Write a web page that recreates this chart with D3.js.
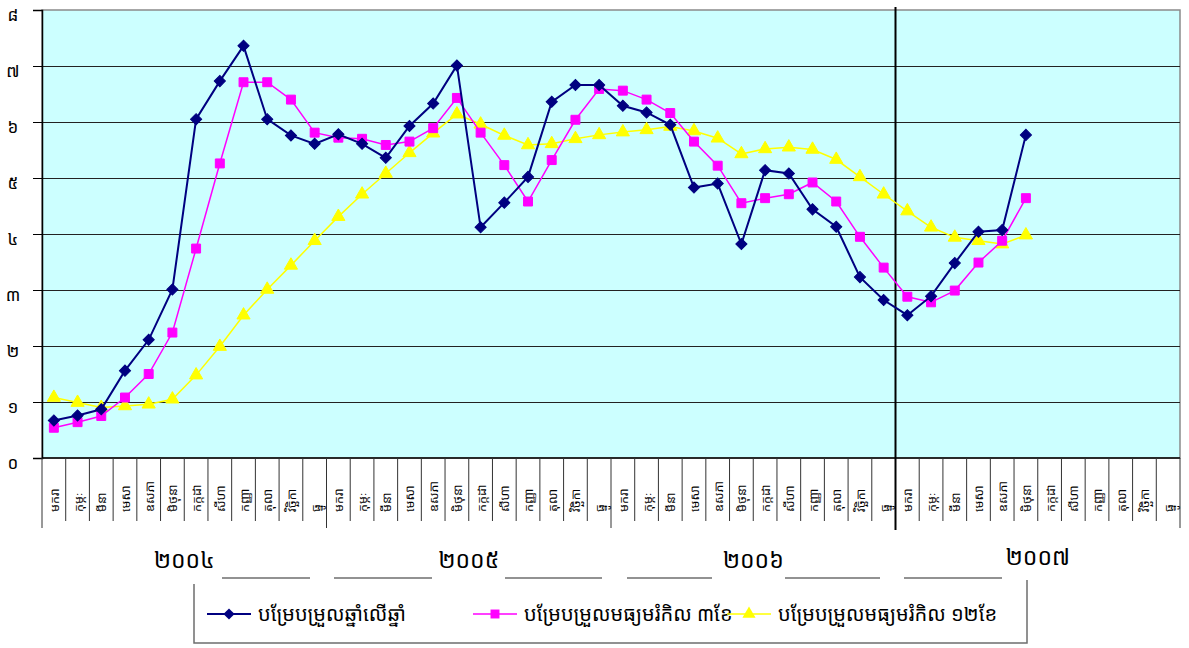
<!DOCTYPE html>
<html>
<head>
<meta charset="utf-8">
<script src="https://cdn.jsdelivr.net/npm/d3@7"></script>
<style>
  body { margin: 0; background: #fff; }
  svg text { font-family: "Noto Sans Khmer", "Khmer OS", "Noto Sans", "DejaVu Sans", sans-serif; fill: #000; }
</style>
</head>
<body>
<div id="chart"></div>
<script>
// months and years (Khmer)
var months = ["មករា", "កុម្ភៈ", "មីនា", "មេសា", "ឧសភា", "មិថុនា", "កក្កដា", "សីហា", "កញ្ញា", "តុលា", "វិច្ឆិកា", "ធ្នូ"];
var years = ["២០០៤", "២០០៥", "២០០៦", "២០០៧"];
var yTicks = ["០", "១", "២", "៣", "៤", "៥", "៦", "៧", "៨"];

// year on year change (%)
var yoy = [0.67, 0.76, 0.87, 1.56, 2.11, 3.01, 6.05, 6.73, 7.36, 6.05, 5.76, 5.61,
           5.78, 5.61, 5.36, 5.93, 6.33, 7.01, 4.12, 4.56, 5.02, 6.36, 6.66, 6.66,
           6.29, 6.17, 5.95, 4.83, 4.90, 3.82, 5.14, 5.08, 4.44, 4.13, 3.23, 2.82,
           2.55, 2.89, 3.48, 4.04, 4.07, 5.77];
// 3 month moving average
var ma3 = [0.54, 0.64, 0.75, 1.08, 1.50, 2.24, 3.74, 5.26, 6.71, 6.71, 6.40, 5.81,
           5.72, 5.70, 5.59, 5.65, 5.89, 6.43, 5.81, 5.23, 4.58, 5.32, 6.04, 6.59,
           6.56, 6.40, 6.16, 5.65, 5.22, 4.55, 4.64, 4.71, 4.92, 4.58, 3.95, 3.40,
           2.88, 2.78, 2.99, 3.49, 3.88, 4.64];
// 12 month moving average
var ma12 = [1.08, 0.99, 0.90, 0.93, 0.96, 1.05, 1.48, 1.99, 2.55, 3.01, 3.44, 3.88,
            4.31, 4.71, 5.08, 5.45, 5.80, 6.14, 5.96, 5.76, 5.59, 5.61, 5.70, 5.77,
            5.82, 5.86, 5.92, 5.84, 5.71, 5.43, 5.52, 5.55, 5.51, 5.33, 5.02, 4.71,
            4.41, 4.12, 3.94, 3.88, 3.82, 3.98];

var seriesNames = ["បម្រែបម្រួលឆ្នាំលើឆ្នាំ", "បម្រែបម្រួលមធ្យមរំកិល ៣ខែ", "បម្រែបម្រួលមធ្យមរំកិល ១២ខែ"];

var width = 1189, height = 648;
var plot = {left: 42, right: 1180, top: 10, bottom: 458};

var svg = d3.select("#chart").append("svg")
  .attr("width", width)
  .attr("height", height);

var nCat = months.length * years.length;
var x = d3.scaleBand()
  .domain(d3.range(nCat))
  .range([plot.left, plot.right]);

var y = d3.scaleLinear()
  .domain([0, 8])
  .range([plot.bottom, plot.top]);

// plot background
svg.append("rect")
  .attr("x", plot.left).attr("y", plot.top)
  .attr("width", plot.right - plot.left).attr("height", plot.bottom - plot.top)
  .attr("fill", "#ccffff")
  .attr("stroke", "#8a8a8a")
  .attr("stroke-width", 1.5);

// gridlines
svg.append("g")
  .selectAll("line")
  .data(d3.range(1, 8))
  .enter().append("line")
  .attr("x1", plot.left).attr("x2", plot.right)
  .attr("y1", function(d) { return Math.round(y(d)) + 0.5; })
  .attr("y2", function(d) { return Math.round(y(d)) + 0.5; })
  .attr("stroke", "#222")
  .attr("stroke-width", 1);

// y axis
var yAxis = svg.append("g")
  .attr("transform", "translate(" + plot.left + ",0)")
  .call(d3.axisLeft(y).ticks(8).tickSize(9).tickPadding(14)
    .tickFormat(function(d) { return yTicks[d]; }));
yAxis.select(".domain").attr("stroke", "#000").attr("stroke-width", 1.5);
yAxis.selectAll(".tick line").attr("stroke", "#000");
yAxis.selectAll(".tick text")
  .attr("font-size", 17)
  .attr("text-anchor", "middle")
  .attr("x", -29)
  .attr("dy", "0.62em");

// x axis line
svg.append("line")
  .attr("x1", plot.left).attr("x2", plot.right)
  .attr("y1", plot.bottom).attr("y2", plot.bottom)
  .attr("stroke", "#000").attr("stroke-width", 1.5);

// category separators
svg.append("g")
  .selectAll("line")
  .data(d3.range(nCat + 1))
  .enter().append("line")
  .attr("x1", function(i) { return i < nCat ? x(i) : plot.right; })
  .attr("x2", function(i) { return i < nCat ? x(i) : plot.right; })
  .attr("y1", plot.bottom)
  .attr("y2", function(i) { return i % 12 == 0 ? 528 : 521; })
  .attr("stroke", "#333")
  .attr("stroke-width", 1);

// month labels
svg.append("g")
  .selectAll("text")
  .data(d3.range(nCat))
  .enter().append("text")
  .attr("transform", function(i) {
    return "translate(" + (x(i) + x.bandwidth() / 2 + 5) + ",512) rotate(-90)";
  })
  .attr("font-size", 12.5)
  .text(function(i) { return months[i % 12]; });

// 2007 divider
svg.append("line")
  .attr("x1", x(36)).attr("x2", x(36))
  .attr("y1", 7).attr("y2", 530)
  .attr("stroke", "#000").attr("stroke-width", 2);

// series
var series = [
  {values: yoy, color: "#000080", width: 2, marker: d3.symbolSquare, rotate: 45, size: 62},
  {values: ma3, color: "#ff00ff", width: 1.5, marker: d3.symbolSquare, rotate: 0, size: 80},
  {values: ma12, color: "#ffff00", width: 1.5, marker: d3.symbolTriangle, rotate: 0, size: 75}
];

var line = d3.line()
  .x(function(d, i) { return x(i) + x.bandwidth() / 2; })
  .y(function(d) { return y(d); });

series.slice().reverse().forEach(function(s) {
  var g = svg.append("g");
  g.append("path")
    .datum(s.values)
    .attr("fill", "none")
    .attr("stroke", s.color)
    .attr("stroke-width", s.width)
    .attr("d", line);
  g.selectAll("path.pt")
    .data(s.values)
    .enter().append("path")
    .attr("class", "pt")
    .attr("transform", function(d, i) {
      return "translate(" + (x(i) + x.bandwidth() / 2) + "," + y(d) + ") rotate(" + s.rotate + ")";
    })
    .attr("d", d3.symbol().type(s.marker).size(s.size))
    .attr("fill", s.color)
    .attr("stroke", s.color)
    .attr("stroke-width", 1);
});

// legend frame and decorative rules
var frame = svg.append("g").attr("stroke", "#6e6e6e").attr("stroke-width", 1.5);
[[222, 310], [334, 432], [505, 602], [627, 712], [785, 880], [904, 1002]].forEach(function(seg) {
  frame.append("line").attr("x1", seg[0]).attr("x2", seg[1]).attr("y1", 578).attr("y2", 578);
});
frame.append("polyline")
  .attr("fill", "none")
  .attr("points", "194,584 194,643 1027,643 1027,580");

// year labels
svg.append("g")
  .selectAll("text")
  .data(years)
  .enter().append("text")
  .attr("x", function(d, i) { return (x(i * 12) + x(i * 12 + 11) + x.bandwidth()) / 2; })
  .attr("y", function(d, i) { return i == 3 ? 565 : 568; })
  .attr("text-anchor", "middle")
  .attr("font-size", 23)
  .text(function(d) { return d; });

// legend items
var legendX = [207, 473, 727];
var legend = svg.append("g");
series.forEach(function(s, i) {
  var lg = legend.append("g").attr("transform", "translate(" + legendX[i] + ",614)");
  lg.append("line").attr("x1", 0).attr("x2", 44)
    .attr("stroke", s.color).attr("stroke-width", s.width);
  lg.append("path")
    .attr("transform", "translate(22,0) rotate(" + s.rotate + ")")
    .attr("d", d3.symbol().type(s.marker).size(s.size))
    .attr("fill", s.color);
  lg.append("text")
    .attr("x", 51).attr("y", 7)
    .attr("font-size", 20)
    .text(seriesNames[i]);
});
</script>
</body>
</html>
